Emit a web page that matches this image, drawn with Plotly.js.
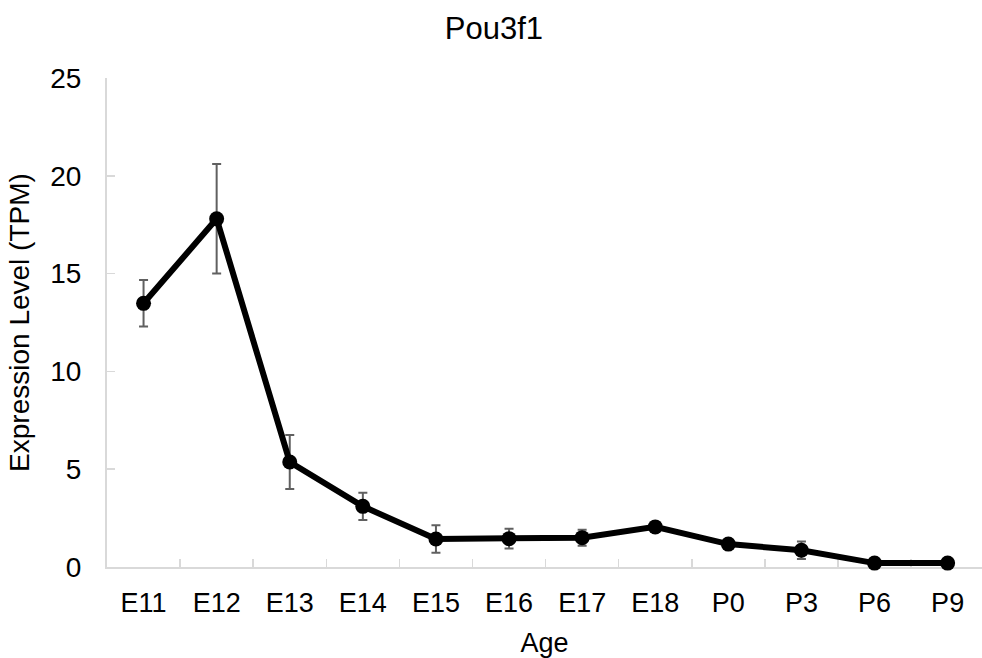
<!DOCTYPE html>
<html>
<head>
<meta charset="utf-8">
<script src="https://cdn.plot.ly/plotly-3.0.1.min.js"></script>
<style>html,body{margin:0;padding:0;background:#fff;}#chart{width:982px;height:658px;}</style>
</head>
<body>
<div id="chart"></div>
<script>
const ages = ["E11","E12","E13","E14","E15","E16","E17","E18","P0","P3","P6","P9"];
const expression = [13.48, 17.8, 5.37, 3.1, 1.43, 1.45, 1.5, 2.05, 1.17, 0.86, 0.2, 0.2];
const errors = [1.19, 2.8, 1.38, 0.7, 0.7, 0.5, 0.41, 0.12, 0.12, 0.45, 0.05, 0.05];
const yTicks = [0, 5, 10, 15, 20, 25];

const font = "Liberation Sans, Arial, Helvetica, sans-serif";

const trace = {
  x: ages,
  y: expression,
  type: "scatter",
  mode: "lines+markers",
  line: {color: "#000000", width: 6},
  marker: {color: "#000000", size: 15},
  error_y: {type: "data", array: errors, visible: true, color: "#606060", thickness: 2, width: 4.5},
  cliponaxis: false,
  hoverinfo: "x+y"
};

const layout = {
  width: 982,
  height: 658,
  margin: {l: 107, r: 0, t: 77.5, b: 90.5},
  paper_bgcolor: "#ffffff",
  plot_bgcolor: "#ffffff",
  showlegend: false,
  font: {family: font, color: "#000000", size: 27},
  title: {text: "Pou3f1", font: {family: font, size: 31, color: "#000000"}, x: 0.503, xanchor: "center", y: 1 - 28/658, yanchor: "middle", yref: "container"},
  xaxis: {
    type: "category",
    range: [-0.5, 11.47],
    tickson: "boundaries",
    ticks: "inside",
    ticklen: 8,
    tickwidth: 1.5,
    tickcolor: "#d9d9d9",
    showline: true,
    linecolor: "#d9d9d9",
    linewidth: 2,
    layer: "below traces",
    showgrid: false,
    zeroline: false,
    tickfont: {family: font, size: 27, color: "#000000"},
    ticklabelstandoff: 11,
    title: {text: "Age", font: {family: font, size: 27, color: "#000000"}, standoff: 16}
  },
  yaxis: {
    range: [0, 25],
    tickvals: yTicks,
    ticktext: yTicks.map(String),
    ticks: "inside",
    ticklen: 8,
    tickwidth: 1.5,
    tickcolor: "#d9d9d9",
    showline: true,
    linecolor: "#d9d9d9",
    linewidth: 2,
    layer: "below traces",
    showgrid: false,
    zeroline: false,
    tickfont: {family: font, size: 28, color: "#000000"},
    ticklabelstandoff: 18,
    title: {text: "Expression Level (TPM)", font: {family: font, size: 28, color: "#000000"}, standoff: 12}
  }
};

Plotly.newPlot("chart", [trace], layout, {displayModeBar: false, staticPlot: true});
</script>
</body>
</html>
